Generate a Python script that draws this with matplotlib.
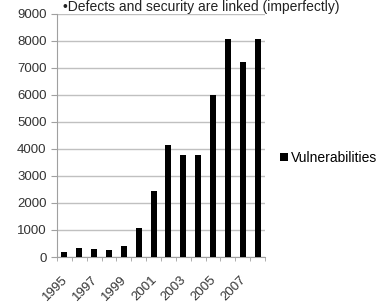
import matplotlib.pyplot as plt
import matplotlib.transforms as mtransforms
import numpy as np

# data
years = ["1995", "1996", "1997", "1998", "1999", "2000", "2001",
         "2002", "2003", "2004", "2005", "2006", "2007", "2008"]
vulnerabilities = [171, 345, 311, 262, 417, 1090, 2437,
                   4129, 3784, 3780, 5990, 8064, 7236, 8077]

plt.rcParams['font.family'] = ['Liberation Sans', 'DejaVu Sans']

fig = plt.figure(figsize=(3.88, 3.02), dpi=100)
ax = fig.add_axes([0.147, 0.149, 0.536, 0.805])

x = np.arange(len(years))
ax.bar(x, vulnerabilities, width=0.4, color="black", label="Vulnerabilities", zorder=3)

ax.set_ylim(0, 9000)
ax.set_yticks(range(0, 9001, 1000))
ax.set_xlim(-0.5, len(years) - 0.5)
ax.set_xticks(x[::2])
ax.set_xticklabels(years[::2], rotation=45, ha="right", rotation_mode="anchor")
ax.set_xticks(np.arange(-0.5, len(years), 1), minor=True)

ax.yaxis.grid(True, color="#c0c0c0", linewidth=1)
ax.set_axisbelow(True)
for s in ["top", "right"]:
    ax.spines[s].set_visible(False)
ax.spines["left"].set_color("#a0a0a0")
ax.spines["bottom"].set_color("#a0a0a0")
ax.tick_params(axis="y", colors="#a0a0a0", labelcolor="#333333", labelsize=9.5, length=4)
ax.tick_params(axis="x", which="major", length=0, labelcolor="#333333", labelsize=9.5, pad=12)
ax.tick_params(axis="x", which="minor", length=3, color="#a0a0a0")

shift = mtransforms.ScaledTranslation(-3 / 100, 0, fig.dpi_scale_trans)
for lbl in ax.get_xticklabels():
    lbl.set_transform(lbl.get_transform() + shift)

fig.legend(loc="center left", bbox_to_anchor=(0.69, 0.477), frameon=False,
           fontsize=10, handlelength=0.55, handleheight=0.55, handletextpad=0.25)

fig.text(0.518, 0.962, "\u2022Defects and security are linked (imperfectly)",
         ha="center", va="baseline", fontsize=10, color="#222222")

fig.savefig("out.png", dpi=100)
